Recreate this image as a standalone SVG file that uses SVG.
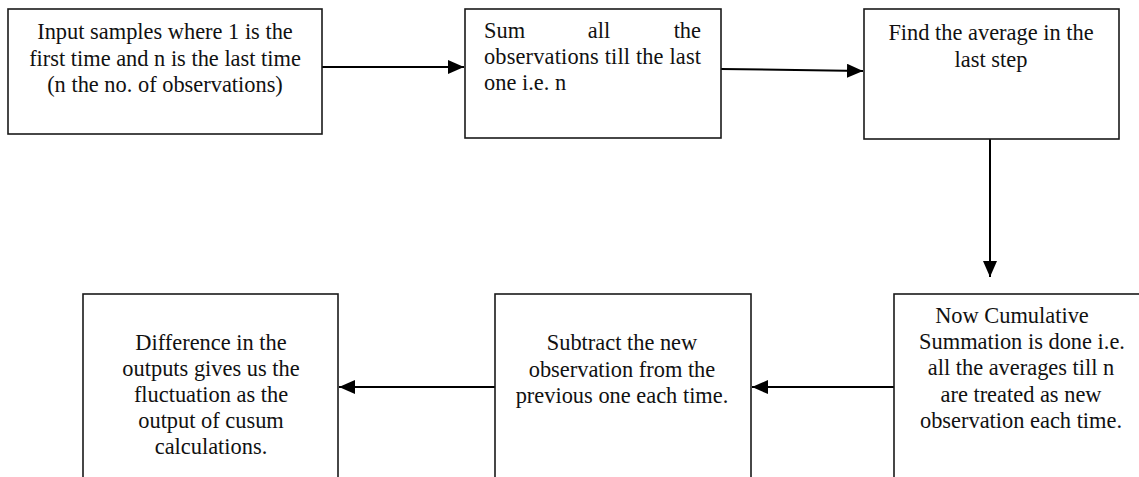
<svg xmlns="http://www.w3.org/2000/svg" width="1139" height="477" viewBox="0 0 1139 477">
<style>
.box{fill:#fff;stroke:#1a1a1a;stroke-width:1.6}
.t{font-family:"Liberation Serif","Times New Roman",serif;font-size:22.4px;fill:#111}
.c{text-anchor:middle}
.conn{stroke:#000;stroke-width:2;fill:none}
</style>
<defs>
<marker id="ah" markerUnits="userSpaceOnUse" markerWidth="16" markerHeight="14" viewBox="0 0 16 14" refX="16" refY="7" orient="auto">
<path d="M0,0 L16,7 L0,14 Z" fill="#000"/>
</marker>
</defs>
<rect width="1139" height="477" fill="#fff"/>
<g id="connectors">
<line class="conn" x1="322" y1="67" x2="464" y2="67" marker-end="url(#ah)"/>
<line class="conn" x1="721" y1="69" x2="863" y2="71" marker-end="url(#ah)"/>
<line class="conn" x1="990" y1="139" x2="990" y2="277" marker-end="url(#ah)"/>
<line class="conn" x1="894" y1="387" x2="752" y2="387" marker-end="url(#ah)"/>
<line class="conn" x1="495" y1="387" x2="339" y2="387" marker-end="url(#ah)"/>
</g>
<g id="node1">
<rect class="box" x="8" y="9" width="314" height="125"/>
<text class="t c" x="165" y="39">Input samples where 1 is the</text>
<text class="t c" x="165" y="65.5">first time and n is the last time</text>
<text class="t c" x="165" y="92">(n the no. of observations)</text>
</g>
<g id="node2">
<rect class="box" x="465" y="9" width="256" height="129"/>
<text class="t" x="484" y="38">Sum</text>
<text class="t c" x="599" y="38">all</text>
<text class="t" x="701" y="38" text-anchor="end">the</text>
<text class="t" x="484" y="64" textLength="217" lengthAdjust="spacing">observations till the last</text>
<text class="t" x="484" y="90">one i.e. n</text>
</g>
<g id="node3">
<rect class="box" x="864" y="9" width="255" height="130"/>
<text class="t c" x="991" y="40">Find the average in the</text>
<text class="t c" x="991" y="67">last step</text>
</g>
<g id="node4">
<rect class="box" x="894" y="294" width="256" height="200"/>
<text class="t c" x="1012" y="323">Now Cumulative</text>
<text class="t c" x="1022" y="349">Summation is done i.e.</text>
<text class="t c" x="1021" y="375">all the averages till n</text>
<text class="t c" x="1021" y="402">are treated as new</text>
<text class="t c" x="1021" y="428">observation each time.</text>
</g>
<g id="node5">
<rect class="box" x="495" y="294" width="256" height="200"/>
<text class="t c" x="622" y="350">Subtract the new</text>
<text class="t c" x="622" y="376.5">observation from the</text>
<text class="t c" x="622" y="403">previous one each time.</text>
</g>
<g id="node6">
<rect class="box" x="83" y="294" width="255" height="200"/>
<text class="t c" x="211" y="350">Difference in the</text>
<text class="t c" x="211" y="376">outputs gives us the</text>
<text class="t c" x="211" y="402">fluctuation as the</text>
<text class="t c" x="211" y="428">output of cusum</text>
<text class="t c" x="211" y="454">calculations.</text>
</g>
</svg>
